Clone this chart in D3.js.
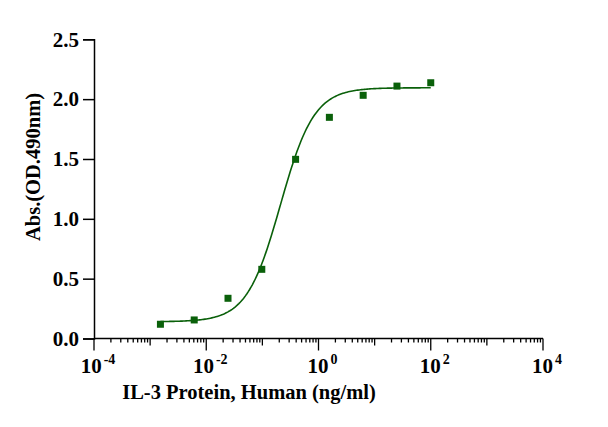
<!DOCTYPE html>
<html>
<head>
<meta charset="utf-8">
<script src="https://cdn.jsdelivr.net/npm/d3@7"></script>
<style>
  body { margin: 0; background: #fff; }
  text { font-family: "Liberation Serif", "Times New Roman", serif; font-weight: bold; }
</style>
</head>
<body>
<div id="chart"></div>
<script>
// IL-3 dose response (4-fold dilution)
const conc = [0.0015259, 0.0061035, 0.024414, 0.097656, 0.390625, 1.5625, 6.25, 25, 100];
const absorb = [0.119, 0.155, 0.336, 0.578, 1.497, 1.848, 2.032, 2.109, 2.137];
const fitParams = { bottom: 0.14, top: 2.095, ec50: 0.21, hill: 1.45 };
const yTicks = [0, 0.5, 1.0, 1.5, 2.0, 2.5];
const xLabelExp = [-4, -2, 0, 2, 4];

const width = 608, height = 427;
const margin = { left: 94, top: 39.3, right: 65, bottom: 88.5 };
const green = "#0a600a";

const svg = d3.select("#chart").append("svg")
    .attr("width", width)
    .attr("height", height);

const x = d3.scaleLog().domain([1e-4, 1e4]).range([margin.left, width - margin.right]);
const y = d3.scaleLinear().domain([0, 2.5]).range([height - margin.bottom, margin.top]);

// y axis
const yAxis = svg.append("g")
    .attr("transform", `translate(${margin.left},0)`)
    .call(d3.axisLeft(y).tickValues(yTicks).tickFormat(d3.format(".1f")).tickSize(11).tickPadding(4));
yAxis.select(".domain").attr("stroke", "#000").attr("stroke-width", 1.5);
yAxis.selectAll(".tick line").attr("stroke-width", 1.5);
yAxis.selectAll("text").attr("font-size", "21px").attr("fill", "#000")
    .attr("font-family", "Liberation Serif").attr("font-weight", "bold");

// x axis with decade and minor ticks
const x0 = y(0);
const xg = svg.append("g");
xg.append("line")
    .attr("x1", x(1e-4)).attr("x2", x(1e4))
    .attr("y1", x0).attr("y2", x0)
    .attr("stroke", "#000").attr("stroke-width", 1.5);
const minor = [];
for (let e = -4; e < 4; e++) {
    for (let m = 1; m <= 9; m++) minor.push({ v: m * Math.pow(10, e), major: m === 1 });
}
minor.push({ v: 1e4, major: true });
xg.selectAll("line.tk")
    .data(minor)
    .enter()
    .append("line")
    .attr("class", "tk")
    .attr("x1", d => x(d.v)).attr("x2", d => x(d.v))
    .attr("y1", x0)
    .attr("y2", d => {
        if (!d.major) return x0 + 4;
        const e = Math.round(Math.log10(d.v));
        return x0 + (e % 2 === 0 ? 12 : 7);
    })
    .attr("stroke", "#000").attr("stroke-width", 1.3);

const xl = xg.selectAll("text.xl")
    .data(xLabelExp)
    .enter()
    .append("text")
    .attr("class", "xl")
    .attr("x", d => x(Math.pow(10, d)) + 4)
    .attr("y", 373)
    .attr("text-anchor", "middle")
    .attr("font-size", "21px")
    .attr("fill", "#000");
xl.append("tspan").text("10");
xl.append("tspan").attr("dx", 2).attr("dy", -9).attr("font-size", "14px")
    .text(d => (d < 0 ? "-" : "") + Math.abs(d));

// axis titles
svg.append("text")
    .attr("x", 249)
    .attr("y", 399)
    .attr("text-anchor", "middle")
    .attr("font-size", "20.5px")
    .attr("fill", "#000")
    .text("IL-3 Protein, Human (ng/ml)");

svg.append("text")
    .attr("transform", "rotate(-90)")
    .attr("x", -167)
    .attr("y", 40)
    .attr("text-anchor", "middle")
    .attr("font-size", "20.5px")
    .attr("fill", "#000")
    .text("Abs.(OD.490nm)");

// fitted 4PL curve
const f = c => fitParams.bottom + (fitParams.top - fitParams.bottom) /
    (1 + Math.pow(fitParams.ec50 / c, fitParams.hill));
const curve = d3.range(0, 201).map(i => {
    const lc = Math.log10(conc[0]) + i / 200 * (Math.log10(conc[conc.length - 1]) - Math.log10(conc[0]));
    const c = Math.pow(10, lc);
    return [c, f(c)];
});
svg.append("path")
    .datum(curve)
    .attr("fill", "none")
    .attr("stroke", green)
    .attr("stroke-width", 1.6)
    .attr("d", d3.line().x(d => x(d[0])).y(d => y(d[1])));

// data points
const pts = conc.map((c, i) => ({ c: c, v: absorb[i] }));
svg.selectAll("rect.pt")
    .data(pts)
    .enter()
    .append("rect")
    .attr("class", "pt")
    .attr("x", d => x(d.c) - 3.5)
    .attr("y", d => y(d.v) - 3.5)
    .attr("width", 7)
    .attr("height", 7)
    .attr("fill", green);
</script>
</body>
</html>
